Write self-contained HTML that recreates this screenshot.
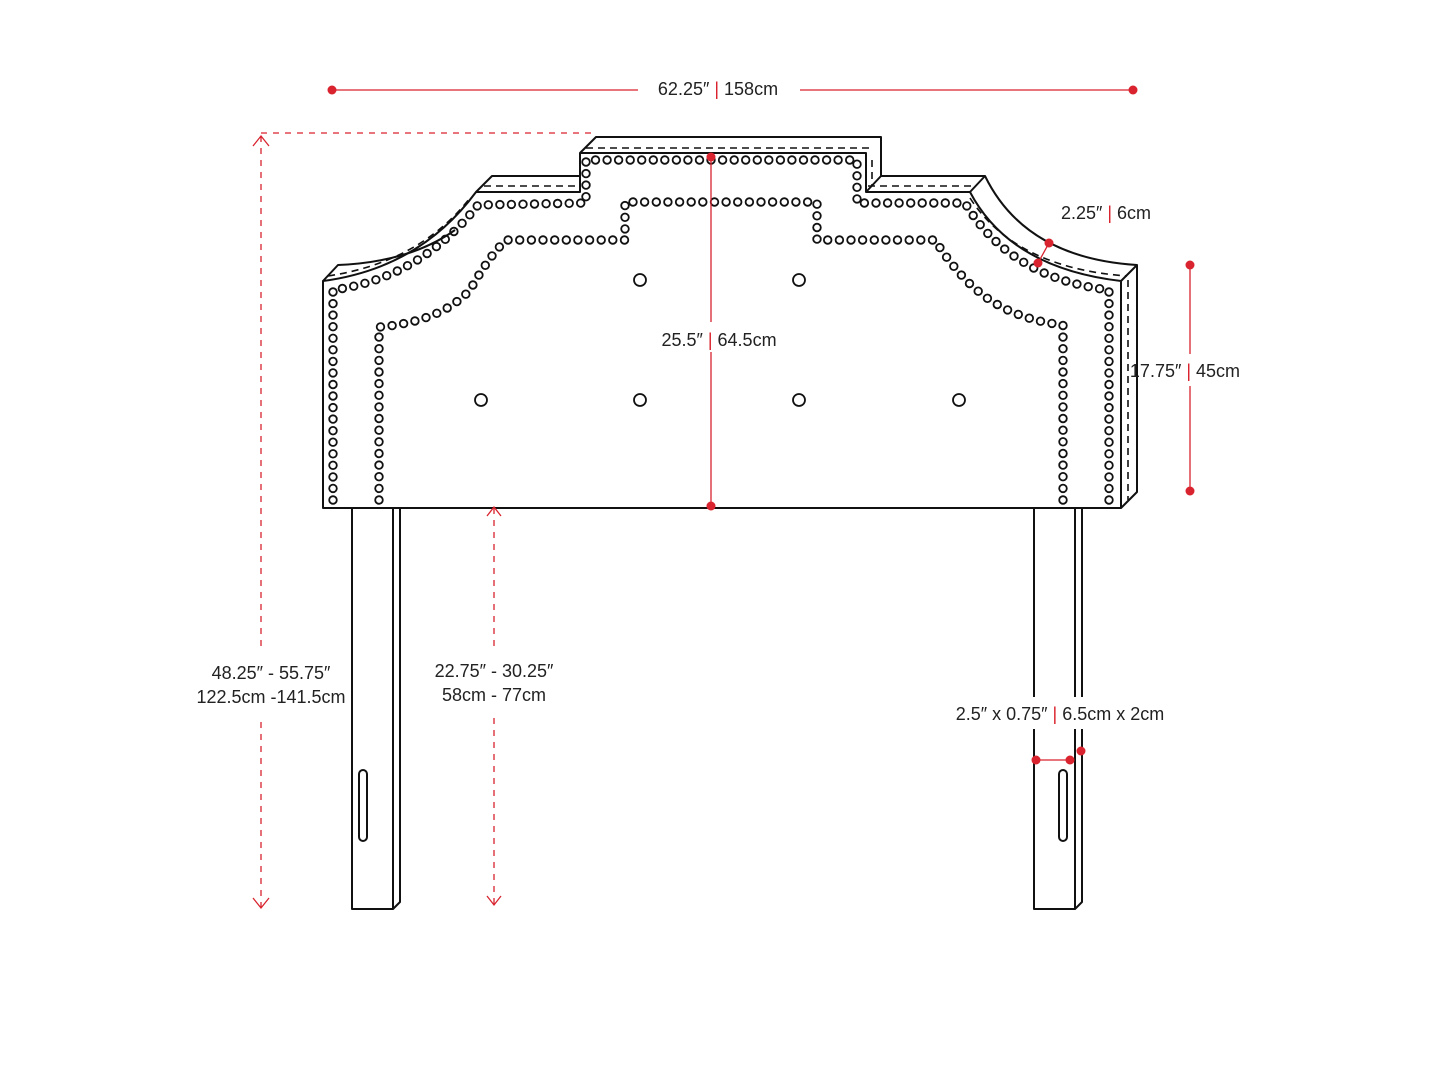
<!DOCTYPE html>
<html><head><meta charset="utf-8"><style>
html,body{margin:0;padding:0;background:#fff;}
svg{display:block}
text{font-family:"Liberation Sans",sans-serif;font-size:18px;fill:#222;}
</style></head><body>
<svg id="s" width="1445" height="1084" viewBox="0 0 1445 1084" xmlns="http://www.w3.org/2000/svg">
<g fill="none" stroke="#111" stroke-width="2" stroke-linejoin="round">
<path d="M323,508 L323,281 Q420,268 476,192 L580,192 L580,153 L866,153 L866,192 L970,192 Q1010,268 1121,281 L1121,508 Z"/>
<path d="M323,281 L338,265 Q410,262 455,230"/>
<path d="M476,192 L492,176 L580,176"/>
<path d="M580,153 L596,137 L881,137 L881,176 L866,192"/>
<path d="M881,176 L985,176 Q1025,258 1137,265 L1121,281"/>
<path d="M970,192 L985,176"/>
<path d="M1137,265 L1137,492 L1121,508"/>
<g stroke-dasharray="7,5" stroke-width="1.6">
<path d="M328,276 Q420,262 470,198"/>
<path d="M484,186 L578,186"/>
<path d="M586,148 L872,148"/>
<path d="M872,160 L872,186"/>
<path d="M868,186 L976,186"/>
<path d="M970,198 Q1015,268 1127,276"/>
<path d="M1128,280 L1128,500"/>
</g>
<path d="M352,508 L352,909 L393,909 L400,902 L400,508"/>
<path d="M393,508 L393,909"/>
<path d="M1034,508 L1034,909 L1075,909 L1082,902 L1082,508"/>
<path d="M1075,508 L1075,909"/>
<rect x="359" y="770" width="8" height="71" rx="4"/>
<rect x="1059" y="770" width="8" height="71" rx="4"/>
</g>
<rect x="1030" y="697" width="56" height="32" fill="#fff"/>
<g id="studs" fill="none" stroke="#111" stroke-width="1.8"></g>
<g fill="#fff" stroke="#111" stroke-width="1.8">
<circle cx="640" cy="280" r="6"/><circle cx="799" cy="280" r="6"/>
<circle cx="481" cy="400" r="6"/><circle cx="640" cy="400" r="6"/><circle cx="799" cy="400" r="6"/><circle cx="959" cy="400" r="6"/>
</g>
<g stroke="#d9232e" stroke-width="1.3" fill="none">
<line x1="332" y1="90" x2="638" y2="90"/><line x1="800" y1="90" x2="1133" y2="90"/>
<g stroke-dasharray="6,6"><line x1="261" y1="136" x2="261" y2="648"/><line x1="261" y1="722" x2="261" y2="908"/><line x1="261" y1="133" x2="596" y2="133"/>
<line x1="494" y1="508" x2="494" y2="648"/><line x1="494" y1="718" x2="494" y2="905"/></g>
<path d="M253,146 L261,136 L269,146 M253,898 L261,908 L269,898"/>
<path d="M487,516 L494,507 L501,516 M487,896 L494,905 L501,896"/>
<line x1="711" y1="157" x2="711" y2="322"/><line x1="711" y1="352" x2="711" y2="506"/>
<line x1="1190" y1="265" x2="1190" y2="354"/><line x1="1190" y1="386" x2="1190" y2="491"/>
<line x1="1049" y1="243" x2="1038" y2="263"/>
<line x1="1036" y1="760" x2="1070" y2="760"/>
</g>
<g fill="#d9232e">
<circle cx="332" cy="90" r="4.5"/><circle cx="1133" cy="90" r="4.5"/>
<circle cx="711" cy="157" r="4.5"/><circle cx="711" cy="506" r="4.5"/>
<circle cx="1190" cy="265" r="4.5"/><circle cx="1190" cy="491" r="4.5"/>
<circle cx="1049" cy="243" r="4.5"/><circle cx="1038" cy="263" r="4.5"/>
<circle cx="1036" cy="760" r="4.5"/><circle cx="1070" cy="760" r="4.5"/><circle cx="1081" cy="751" r="4.5"/>
</g>
<g>
<text x="718" y="95" text-anchor="middle">62.25″ <tspan fill="#d9232e">|</tspan> 158cm</text>
<text x="719" y="346" text-anchor="middle">25.5″ <tspan fill="#d9232e">|</tspan> 64.5cm</text>
<text x="1106" y="219" text-anchor="middle">2.25″ <tspan fill="#d9232e">|</tspan> 6cm</text>
<text x="1185" y="377" text-anchor="middle">17.75″ <tspan fill="#d9232e">|</tspan> 45cm</text>
<text x="271" y="679" text-anchor="middle">48.25″ - 55.75″</text>
<text x="271" y="703" text-anchor="middle">122.5cm -141.5cm</text>
<text x="494" y="677" text-anchor="middle">22.75″ - 30.25″</text>
<text x="494" y="701" text-anchor="middle">58cm - 77cm</text>
<text x="1060" y="720" text-anchor="middle">2.5″ x 0.75″ <tspan fill="#d9232e">|</tspan> 6.5cm x 2cm</text>
</g>
</svg>
<script>
(function(){
var NS="http://www.w3.org/2000/svg",g=document.getElementById("studs");
var paths=[
"M333,500 L333,290 Q420,278 478,205 L586,203 L586,160 L857,160 L857,203 L965,203 Q1010,278 1109,290 L1109,500",
"M379,500 L379,327 Q440,322 470,290 Q490,255 506,240 L625,240 L625,202 L817,202 L817,240 L935,240 Q960,280 990,300 Q1020,320 1063,325 L1063,500"
];
paths.forEach(function(d){
var p=document.createElementNS(NS,"path");p.setAttribute("d",d);p.setAttribute("stroke","none");g.appendChild(p);
var L=p.getTotalLength(),n=Math.round(L/11.6);
for(var i=0;i<=n;i++){var pt=p.getPointAtLength(L*i/n);
var c=document.createElementNS(NS,"circle");c.setAttribute("cx",pt.x.toFixed(1));c.setAttribute("cy",pt.y.toFixed(1));c.setAttribute("r","3.8");g.appendChild(c);}
});
})();
</script>
</body></html>
